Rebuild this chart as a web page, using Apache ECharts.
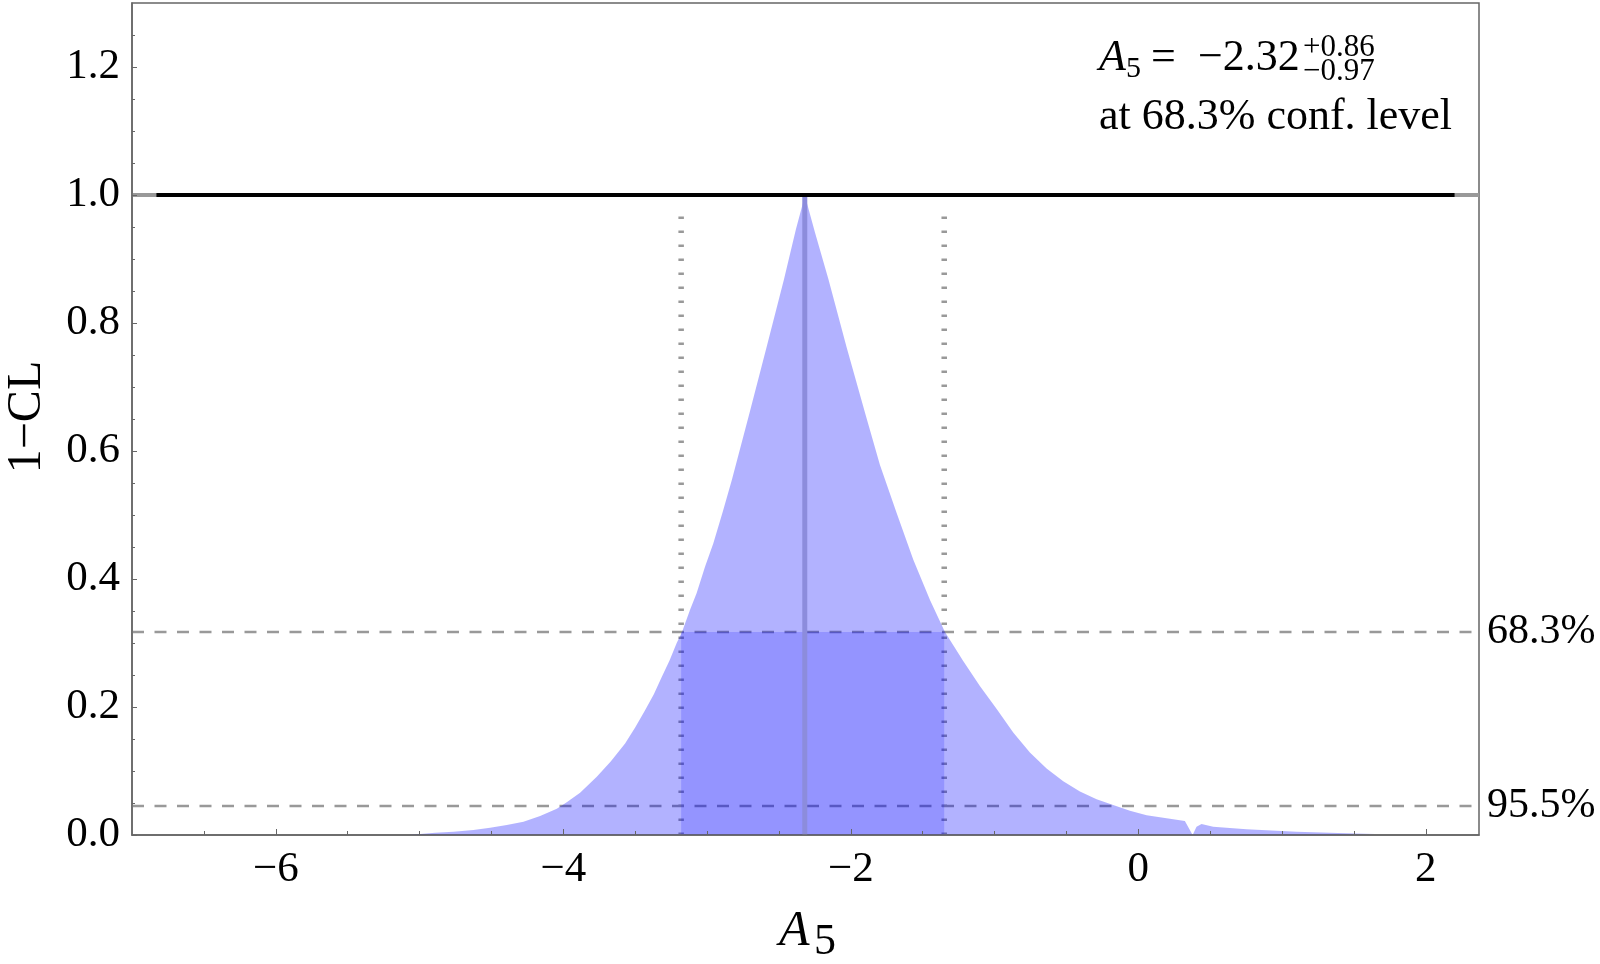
<!DOCTYPE html>
<html>
<head>
<meta charset="utf-8">
<script src="https://cdn.jsdelivr.net/npm/echarts@6/dist/echarts.min.js"></script>
<style>
  html, body { margin: 0; padding: 0; background: #fff; }
  #chart { width: 1600px; height: 964px; }
</style>
</head>
<body>
<div id="chart"></div>
<script>
// 1-CL scan of A5
const xVals = [-5.08, -5.077, -4.891, -4.764, -4.625, -4.509, -4.393, -4.277, -4.161, -4.045, -3.976,
  -3.883, -3.767, -3.67, -3.57, -3.5, -3.431, -3.37, -3.315, -3.26, -3.211, -3.174,
  -3.118, -3.072, -3.014, -2.956, -2.887, -2.826, -2.705, -2.585, -2.465, -2.382, -2.33, -2.32,
  -2.29, -2.25, -2.155, -2.03, -1.9, -1.797, -1.681, -1.565, -1.449, -1.345, -1.218, -1.102,
  -0.985, -0.87, -0.754, -0.638, -0.522, -0.406, -0.29, -0.175, -0.058, 0.058, 0.197, 0.324,
  0.378, 0.405, 0.44, 0.521, 0.753, 1.101, 1.449, 1.645, 1.65];
const clVals = [0, 0.0016, 0.0036, 0.0052, 0.0078, 0.0115, 0.0156, 0.0208, 0.0295, 0.0412, 0.051,
  0.066, 0.091, 0.115, 0.143, 0.168, 0.195, 0.22, 0.247, 0.273, 0.3, 0.317,
  0.352, 0.378, 0.419, 0.456, 0.508, 0.556, 0.659, 0.763, 0.868, 0.946, 0.99, 1.0,
  0.975, 0.942, 0.868, 0.763, 0.659, 0.578, 0.503, 0.43, 0.367, 0.317, 0.272, 0.233,
  0.197, 0.16, 0.129, 0.104, 0.084, 0.068, 0.056, 0.047, 0.038, 0.031, 0.026, 0.022,
  0, 0.013, 0.017, 0.013, 0.0089, 0.0052, 0.0026, 0.0016, 0];

const bestFit = -2.32;
const interval68 = [-3.18, -1.35];   // ends of the 68.3% interval
const clLevels = [0.317, 0.0455];
const clLabels = ['68.3%', '95.5%'];
const scanRange = [-6.83, 2.2];      // black line at 1-CL = 1

const xRange = [-7, 2.37];
const yRange = [0, 1.3];
const xTicks = [-6, -4, -2, 0, 2];
const xMinorTicks = [-6.5, -5.5, -5, -4.5, -3.5, -3, -2.5, -1.5, -1, -0.5, 0.5, 1, 1.5];
const yTicks = [0, 0.2, 0.4, 0.6, 0.8, 1.0, 1.2];
const yMinorTicks = [0.05, 0.1, 0.15, 0.25, 0.3, 0.35, 0.45, 0.5, 0.55, 0.65, 0.7, 0.75,
  0.85, 0.9, 0.95, 1.05, 1.1, 1.15, 1.25];

const serif = 'Liberation Serif';
const minus = v => (v < 0 ? '\u2212' + Math.abs(v) : String(v));

let myChart = echarts.init(document.getElementById('chart'));

const plainLine = (data, color, width, type, z) => ({
  type: 'line', data: data, xAxisIndex: 0, yAxisIndex: 0,
  showSymbol: false, symbol: 'none', silent: true, z: z,
  lineStyle: { color: color, width: width, type: type }
});

const series = [];
// reference CL lines
clLevels.forEach((lv, i) => {
  const s = plainLine([[xRange[0], lv], [xRange[1], lv]], '#999', 2.5, [12, 10.5], 1);
  s.endLabel = { show: true, formatter: clLabels[i], distance: 8, color: '#000',
    fontFamily: serif, fontSize: 42 };
  series.push(s);
});
// dotted interval bounds
interval68.forEach(b => {
  series.push(plainLine([[b, 0], [b, 0.98]], '#999', 5.5, [2.5, 11.5], 1));
});
// filled 1-CL curve
series.push({
  type: 'line', data: xVals.map((x, i) => [x, clVals[i]]),
  showSymbol: false, symbol: 'none', silent: true, z: 3,
  lineStyle: { width: 0 },
  areaStyle: { color: 'rgba(0,0,255,0.3)', opacity: 1 }
});
// darker 68.3% box
series.push({
  type: 'line', data: interval68.map(b => [b, clLevels[0]]),
  showSymbol: false, symbol: 'none', silent: true, z: 4,
  lineStyle: { width: 0 },
  areaStyle: { color: 'rgba(0,0,255,0.17)', opacity: 1 }
});
// best fit line
series.push(plainLine([[bestFit, 0], [bestFit, 1]], '#8c8cdc', 5, 'solid', 5));
// 1-CL = 1 lines
series.push(plainLine([[xRange[0], 1], [xRange[1], 1]], '#999', 4, 'solid', 6));
series.push(plainLine([[scanRange[0], 1], [scanRange[1], 1]], '#000', 4, 'solid', 7));

const tickStyle = { color: '#666', width: 1 };

myChart.setOption({
  animation: false,
  grid: { left: 132, right: 121, top: 3, bottom: 129, show: true,
    borderColor: '#666', borderWidth: 1.5, backgroundColor: 'transparent' },
  xAxis: [
    { type: 'value', min: xRange[0], max: xRange[1], z: 10,
      axisLine: { show: true, onZero: false, lineStyle: { color: '#666', width: 1.5 } },
      axisTick: { show: true, inside: true, length: 6, customValues: xTicks, lineStyle: tickStyle },
      axisLabel: { show: true, customValues: xTicks, formatter: minus, margin: 13,
        color: '#000', fontFamily: serif, fontSize: 43 },
      splitLine: { show: false } },
    { type: 'value', min: xRange[0], max: xRange[1], position: 'bottom', z: 10,
      axisLine: { show: false, onZero: false },
      axisTick: { show: true, inside: true, length: 4, customValues: xMinorTicks, lineStyle: tickStyle },
      axisLabel: { show: false }, splitLine: { show: false } }
  ],
  yAxis: [
    { type: 'value', min: yRange[0], max: yRange[1], z: 10,
      axisLine: { show: true, onZero: false, lineStyle: { color: '#666', width: 1.5 } },
      axisTick: { show: true, inside: true, length: 5, customValues: yTicks, lineStyle: tickStyle },
      axisLabel: { show: true, customValues: yTicks, formatter: v => v.toFixed(1), margin: 12,
        color: '#000', fontFamily: serif, fontSize: 43 },
      splitLine: { show: false } },
    { type: 'value', min: yRange[0], max: yRange[1], position: 'left', z: 10,
      axisLine: { show: false, onZero: false },
      axisTick: { show: true, inside: true, length: 3, customValues: yMinorTicks, lineStyle: tickStyle },
      axisLabel: { show: false }, splitLine: { show: false } }
  ],
  series: series,
  graphic: [
    // axis titles
    { type: 'text', x: 27, y: 417, rotation: Math.PI / 2,
      style: { text: '1\u2212CL', fontFamily: serif, fontSize: 48, fill: '#000',
        align: 'center', verticalAlign: 'middle' } },
    { type: 'text', x: 779, y: 932,
      style: { text: 'A', fontFamily: serif, fontStyle: 'italic', fontSize: 50, fill: '#000',
        align: 'left', verticalAlign: 'middle' } },
    { type: 'text', x: 814, y: 942,
      style: { text: '5', fontFamily: serif, fontSize: 44, fill: '#000',
        align: 'left', verticalAlign: 'middle' } },
    // result annotation
    { type: 'text', x: 1099, y: 58.5,
      style: { text: 'A', fontFamily: serif, fontStyle: 'italic', fontSize: 44, fill: '#000',
        align: 'left', verticalAlign: 'middle' } },
    { type: 'text', x: 1126, y: 69,
      style: { text: '5', fontFamily: serif, fontSize: 30, fill: '#000',
        align: 'left', verticalAlign: 'middle' } },
    { type: 'text', x: 1151, y: 58.5,
      style: { text: '=', fontFamily: serif, fontSize: 44, fill: '#000',
        align: 'left', verticalAlign: 'middle' } },
    { type: 'text', x: 1198, y: 58.5,
      style: { text: '\u22122.32', fontFamily: serif, fontSize: 44, fill: '#000',
        align: 'left', verticalAlign: 'middle' } },
    { type: 'text', x: 1303, y: 47.5,
      style: { text: '+0.86', fontFamily: serif, fontSize: 31, fill: '#000',
        align: 'left', verticalAlign: 'middle' } },
    { type: 'text', x: 1303, y: 71.5,
      style: { text: '\u22120.97', fontFamily: serif, fontSize: 31, fill: '#000',
        align: 'left', verticalAlign: 'middle' } },
    { type: 'text', x: 1099, y: 117.5,
      style: { text: 'at 68.3% conf. level', fontFamily: serif, fontSize: 44, fill: '#000',
        align: 'left', verticalAlign: 'middle' } }
  ]
});

window.onresize = function () {
  myChart.resize();
};
</script>
</body>
</html>
